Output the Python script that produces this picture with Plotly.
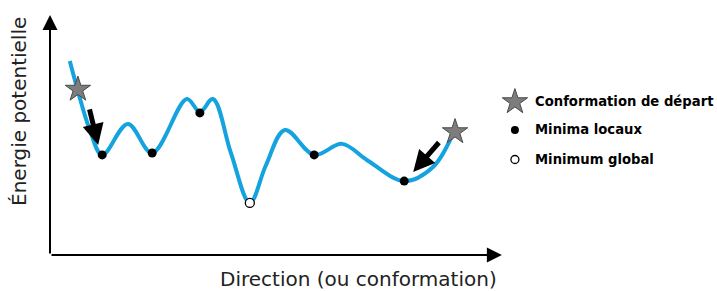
import plotly.graph_objects as go

# ---- data (arbitrary units: conformation direction vs potential energy) ----
curve_x = [0.44, 0.62, 0.87, 1.16, 1.73, 2.27, 3.04, 3.33, 3.62, 4.02, 4.44,
           4.80, 5.22, 5.87, 6.49, 7.04, 7.87, 8.51, 8.96]
curve_y = [8.08, 6.83, 5.29, 4.17, 5.46, 4.25, 6.50, 5.96, 6.50, 4.25, 2.17,
           3.75, 5.21, 4.17, 4.63, 3.96, 3.08, 3.67, 5.08]

start_x = [0.62, 9.00]
start_y = [6.90, 5.13]

local_min_x = [1.16, 2.27, 3.33, 5.87, 7.87]
local_min_y = [4.17, 4.25, 5.92, 4.17, 3.08]

global_min_x = [4.44]
global_min_y = [2.17]

# arrows: tail -> head
arrow_tail_x = [0.87, 8.67]
arrow_tail_y = [6.13, 4.75]
arrow_head_x = [1.07, 8.07]
arrow_head_y = [4.58, 3.46]

legend_labels = ["Conformation de départ", "Minima locaux", "Minimum global"]
x_title = "Direction (ou conformation)"
y_title = "Énergie potentielle"

# ---- styles ----
BLUE = "#14a3df"
star_style = dict(symbol="star", size=19, color="#7d7d7d",
                  line=dict(color="#4a4a4a", width=1))
dot_style = dict(symbol="circle", size=9, color="black", line=dict(color="black", width=0))
open_style = dict(symbol="circle", size=9, color="white", line=dict(color="black", width=1.3))

X_MAX = 14.82   # plot area extends to the right edge so the legend lives in data space
AXIS_END = 10.04

fig = go.Figure()
fig.add_trace(go.Scatter(x=curve_x, y=curve_y, mode="lines",
                         line=dict(color=BLUE, width=4, shape="spline", smoothing=1.0),
                         hoverinfo="skip", showlegend=False))
fig.add_trace(go.Scatter(x=start_x, y=start_y, mode="markers", marker=star_style,
                         showlegend=False, cliponaxis=False))
fig.add_trace(go.Scatter(x=local_min_x, y=local_min_y, mode="markers", marker=dot_style,
                         showlegend=False, cliponaxis=False))
fig.add_trace(go.Scatter(x=global_min_x, y=global_min_y, mode="markers", marker=open_style,
                         showlegend=False, cliponaxis=False))

# manual legend
LEG_MX = 10.33
LEG_TX = 10.73
LEG_Y = [6.38, 5.21, 3.98]
leg_sizes = [19, 8, 8]
for style, sz, ly, label in zip([star_style, dot_style, open_style], leg_sizes, LEG_Y, legend_labels):
    fig.add_trace(go.Scatter(x=[LEG_MX], y=[ly], mode="markers",
                             marker=dict(style, size=sz),
                             showlegend=False, cliponaxis=False, hoverinfo="skip"))
    fig.add_annotation(x=LEG_TX, y=ly, xref="x", yref="y", text=label, showarrow=False,
                       xanchor="left", yanchor="middle",
                       font=dict(family="DejaVu Sans", size=13.2, color="black", weight="bold"))

# black arrows
for tx, ty, hx, hy in zip(arrow_tail_x, arrow_tail_y, arrow_head_x, arrow_head_y):
    fig.add_annotation(x=hx, y=hy, ax=tx, ay=ty, xref="x", yref="y", axref="x", ayref="y",
                       text="", showarrow=True, arrowhead=2, arrowwidth=5, arrowsize=0.85,
                       arrowcolor="black", standoff=0, startstandoff=0)

# axes drawn as arrows
fig.add_annotation(x=AXIS_END, y=0, ax=0, ay=0, xref="x", yref="y", axref="x", ayref="y",
                   text="", showarrow=True, arrowhead=2, arrowwidth=2, arrowsize=1.5,
                   arrowcolor="black", standoff=0)
fig.add_annotation(x=0, y=10, ax=0, ay=0, xref="x", yref="y", axref="x", ayref="y",
                   text="", showarrow=True, arrowhead=2, arrowwidth=2, arrowsize=1.5,
                   arrowcolor="black", standoff=0)

# axis titles
fig.add_annotation(x=0.4618, y=-0.10, xref="paper", yref="paper", text=x_title,
                   showarrow=False, xanchor="center", yanchor="middle",
                   font=dict(family="DejaVu Sans", size=20, color="#222"))
fig.add_annotation(x=-0.0465, y=0.6, xref="paper", yref="paper", text=y_title, textangle=-90,
                   showarrow=False, xanchor="center", yanchor="middle",
                   font=dict(family="DejaVu Sans", size=20, color="#222"))

fig.update_xaxes(range=[0, X_MAX], visible=False, fixedrange=True)
fig.update_yaxes(range=[0, 10], visible=False, fixedrange=True)
fig.update_layout(width=717, height=291, margin=dict(l=50, r=0, t=15, b=36),
                  plot_bgcolor="white", paper_bgcolor="white", showlegend=False)

fig.write_html("out.html", config={"displayModeBar": False},
               post_script="document.body.style.margin='0';document.body.style.overflow='hidden';")
